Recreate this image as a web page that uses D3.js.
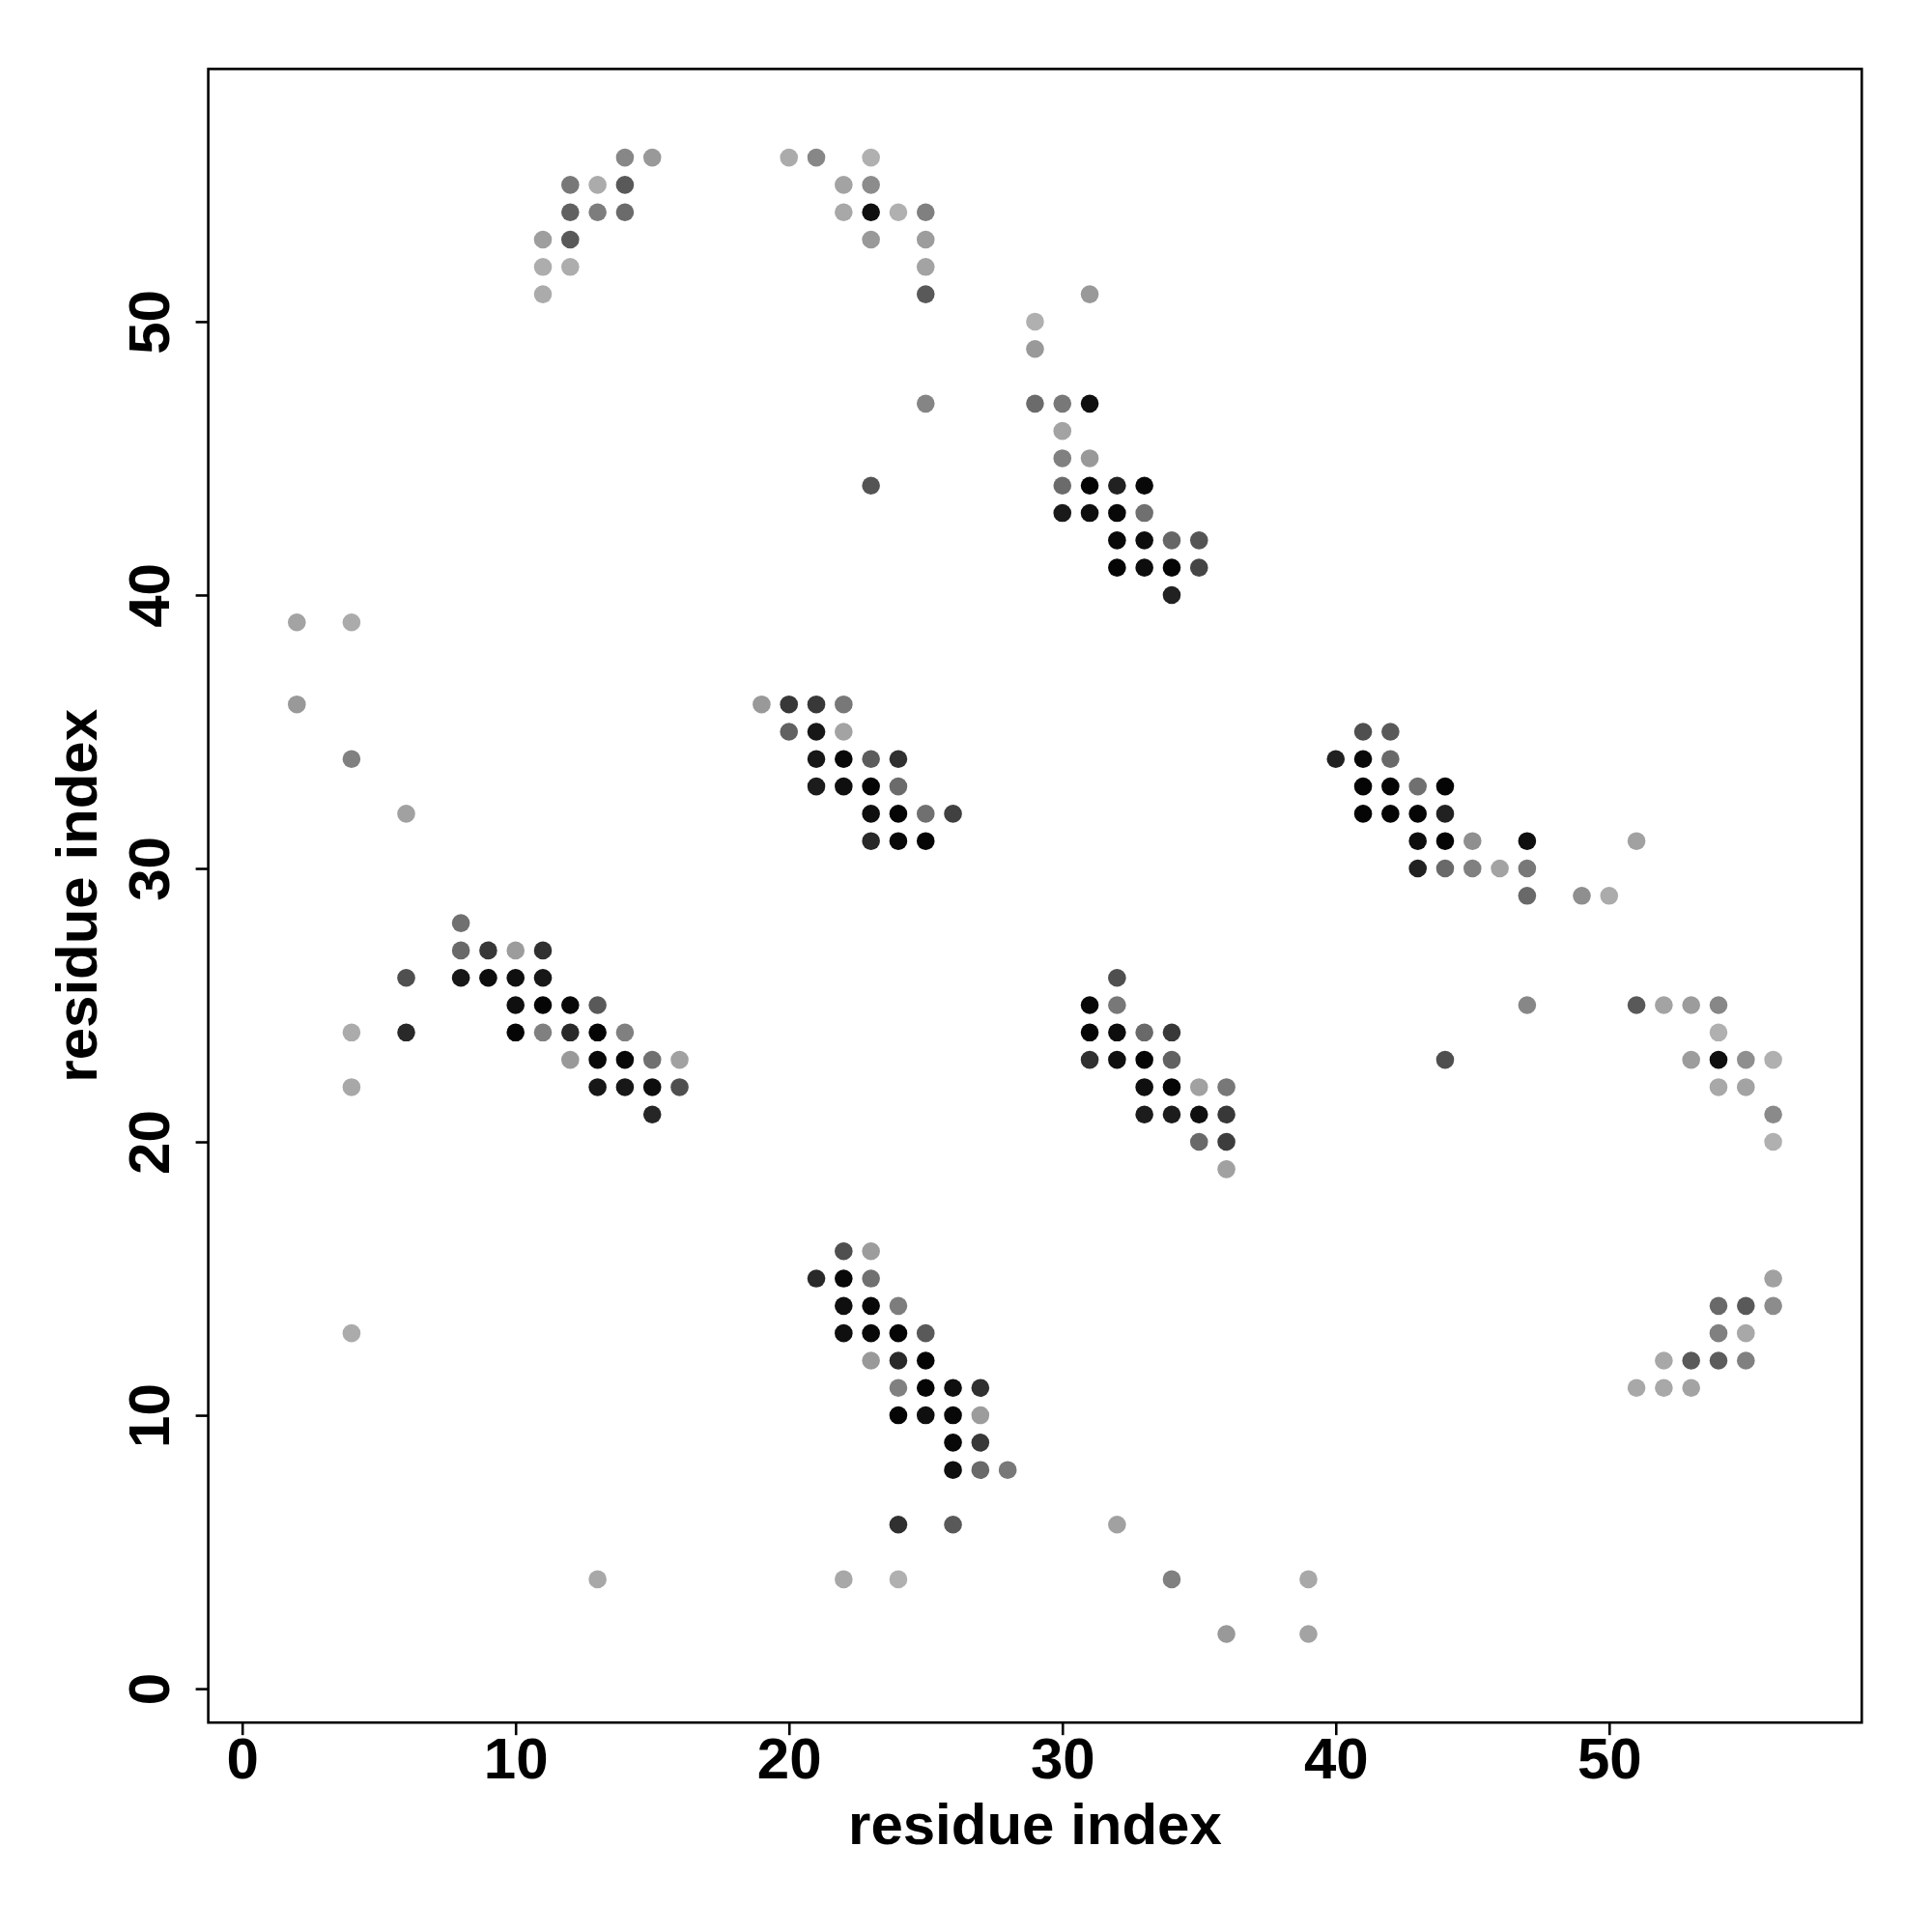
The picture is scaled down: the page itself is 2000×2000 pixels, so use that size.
<!DOCTYPE html>
<html>
<head>
<meta charset="utf-8">
<script src="https://cdn.jsdelivr.net/npm/d3@7/dist/d3.min.js"></script>
<style>
  html, body { margin: 0; padding: 0; background: #fff; }
  svg { display: block; }
  text { font-family: "Liberation Sans", Arial, Helvetica, sans-serif; font-weight: bold; }
</style>
</head>
<body>
<svg id="chart" width="2000" height="2000"></svg>
<script>
// Contacts: [residue i, residue j, predicted probability (darkness)]
const topLeft = [
  [14,56,.47],[15,56,.40],
  [12,55,.53],[13,55,.33],[14,55,.65],
  [12,54,.62],[13,54,.51],[14,54,.58],
  [11,53,.38],[12,53,.65],
  [11,52,.32],[12,52,.32],
  [11,51,.33]
];
const topMid = [
  [20,56,.33],[21,56,.47],[23,56,.31],
  [22,55,.36],[23,55,.45],
  [22,54,.34],[23,54,.94],[24,54,.31],[25,54,.50],
  [23,53,.40],[25,53,.39],
  [25,52,.36],
  [25,51,.65],
  [25,47,.48],
  [23,44,.67]
];
const upperRight = [
  [31,51,.40],[29,50,.31],[29,49,.40],
  [29,47,.58],[30,47,.53],[31,47,.94],
  [30,46,.36],
  [30,45,.50],[31,45,.40],
  [30,44,.58],[31,44,.98],[32,44,.87],[33,44,.97],
  [30,43,.90],[31,43,.94],[32,43,.97],[33,43,.56],
  [32,42,.97],[33,42,.95],[34,42,.60],[35,42,.67],
  [32,41,.98],[33,41,.95],[34,41,.98],[35,41,.73],
  [34,40,.87]
];
const leftScatter = [
  [2,39,.36],[4,39,.33],[2,36,.40],[4,34,.50],[6,32,.37],
  [6,26,.69],[4,24,.33],[6,24,.84],[4,22,.34],[4,13,.33]
];
const middle = [
  [19,36,.40],[20,36,.78],[21,36,.78],[22,36,.53],
  [20,35,.62],[21,35,.91],[22,35,.36],
  [21,34,.91],[22,34,.97],[23,34,.64],[24,34,.81],
  [21,33,.89],[22,33,.94],[23,33,.98],[24,33,.58],
  [23,32,.94],[24,32,.98],[25,32,.56],[26,32,.75],
  [23,31,.84],[24,31,.97],[25,31,.98]
];
const rightMiddle = [
  [41,35,.69],[42,35,.65],
  [40,34,.87],[41,34,.97],[42,34,.59],
  [41,33,.98],[42,33,.98],[43,33,.56],[44,33,.98],
  [41,32,.98],[42,32,.98],[43,32,.98],[44,32,.87],
  [43,31,.95],[44,31,.98],[45,31,.44],[47,31,.94],[51,31,.37],
  [43,30,.87],[44,30,.59],[45,30,.50],[46,30,.36],[47,30,.53],
  [47,29,.59],[49,29,.44],[50,29,.33]
];
const leftDiag = [
  [8,28,.56],
  [8,27,.59],[9,27,.78],[10,27,.39],[11,27,.81],
  [8,26,.91],[9,26,.95],[10,26,.94],[11,26,.91],
  [10,25,.94],[11,25,.98],[12,25,.97],[13,25,.65],
  [10,24,.98],[11,24,.50],[12,24,.84],[13,24,.98],[14,24,.50],
  [12,23,.40],[13,23,.97],[14,23,.97],[15,23,.56],[16,23,.37],
  [13,22,.91],[14,22,.91],[15,22,.95],[16,22,.69],
  [15,21,.85]
];
const centerDiag = [
  [32,26,.69],
  [31,25,.97],[32,25,.53],
  [31,24,.98],[32,24,.95],[33,24,.59],[34,24,.78],
  [31,23,.81],[32,23,.94],[33,23,.98],[34,23,.62],
  [33,22,.94],[34,22,.98],[35,22,.37],[36,22,.53],
  [33,21,.89],[34,21,.89],[35,21,.94],[36,21,.78],
  [35,20,.59],[36,20,.76],
  [36,19,.37]
];
const rightLower = [
  [47,25,.47],[51,25,.65],[52,25,.36],[53,25,.39],[54,25,.47],
  [54,24,.31],
  [44,23,.69],[53,23,.39],[54,23,.94],[55,23,.44],[56,23,.31],
  [54,22,.34],[55,22,.36],
  [56,21,.46],
  [56,20,.31]
];
const bottomDiag = [
  [22,16,.69],[23,16,.39],
  [21,15,.84],[22,15,.97],[23,15,.56],
  [22,14,.94],[23,14,.97],[24,14,.51],
  [22,13,.94],[23,13,.97],[24,13,.98],[25,13,.65],
  [23,12,.40],[24,12,.84],[25,12,.98],
  [24,11,.50],[25,11,.98],[26,11,.94],[27,11,.81],
  [24,10,.98],[25,10,.94],[26,10,.97],[27,10,.39],
  [26,9,.97],[27,9,.78],
  [26,8,.94],[27,8,.59],[28,8,.53],
  [24,6,.81],[26,6,.65]
];
const bottomRight = [
  [56,15,.37],
  [54,14,.59],[55,14,.65],[56,14,.45],
  [54,13,.50],[55,13,.34],
  [52,12,.34],[53,12,.65],[54,12,.64],[55,12,.50],
  [51,11,.34],[52,11,.34],[53,11,.36]
];
const bottomScatter = [
  [32,6,.37],[13,4,.34],[22,4,.34],[24,4,.31],[34,4,.50],[39,4,.34],[36,2,.40],[39,2,.36]
];
const xTicks = [0, 10, 20, 30, 40, 50];
const yTicks = [0, 10, 20, 30, 40, 50];
const xLabel = "residue index";
const yLabel = "residue index";
const domainLim = [-1.24, 59.24];

const contacts = [].concat(topLeft, topMid, upperRight, leftScatter, middle, rightMiddle,
  leftDiag, centerDiag, rightLower, bottomDiag, bottomRight, bottomScatter);

const L = 215.6, R = 1927.3, T = 71.4, B = 1783.2;
const svg = d3.select("#chart");
const x = d3.scaleLinear().domain(domainLim).range([L, R]);
const y = d3.scaleLinear().domain(domainLim).range([B, T]);
const shade = d3.scaleLinear().domain([0, 1]).range(["#ffffff", "#000000"]);

svg.append("g").selectAll("circle").data(contacts).join("circle")
  .attr("cx", d => x(d[0])).attr("cy", d => y(d[1]))
  .attr("r", 9.3).attr("fill", d => shade(d[2]));

// box
svg.append("rect").attr("x", L).attr("y", T).attr("width", R - L).attr("height", B - T)
  .attr("fill", "none").attr("stroke", "#000").attr("stroke-width", 2.6);

const fs = 60;
const gx = svg.append("g").attr("transform", `translate(0,${B})`)
  .call(d3.axisBottom(x).tickValues(xTicks).tickSize(13).tickSizeOuter(0).tickFormat(d3.format("d")));
gx.select(".domain").remove();
gx.selectAll("line").attr("stroke", "#000").attr("stroke-width", 2.6);
gx.selectAll("text").attr("y", 58).attr("dy", 0).attr("fill", "#000")
  .style("font-size", fs + "px").style("font-family", '"Liberation Sans", Arial, sans-serif').style("font-weight", "bold");

const gy = svg.append("g").attr("transform", `translate(${L},0)`)
  .call(d3.axisLeft(y).tickValues(yTicks).tickSize(13).tickSizeOuter(0).tickFormat(d3.format("d")));
gy.select(".domain").remove();
gy.selectAll("line").attr("stroke", "#000").attr("stroke-width", 2.6);
gy.selectAll("text").attr("x", 0).attr("dy", 0)
  .attr("transform", "translate(-41,0) rotate(-90)")
  .attr("text-anchor", "middle").attr("fill", "#000")
  .style("font-size", fs + "px").style("font-family", '"Liberation Sans", Arial, sans-serif').style("font-weight", "bold");

svg.append("text").attr("x", (L + R) / 2).attr("y", 1909).attr("text-anchor", "middle")
  .style("font-size", fs + "px").text(xLabel);
svg.append("text").attr("transform", `translate(100,${(T + B) / 2}) rotate(-90)`).attr("text-anchor", "middle")
  .style("font-size", fs + "px").text(yLabel);
</script>
</body>
</html>
